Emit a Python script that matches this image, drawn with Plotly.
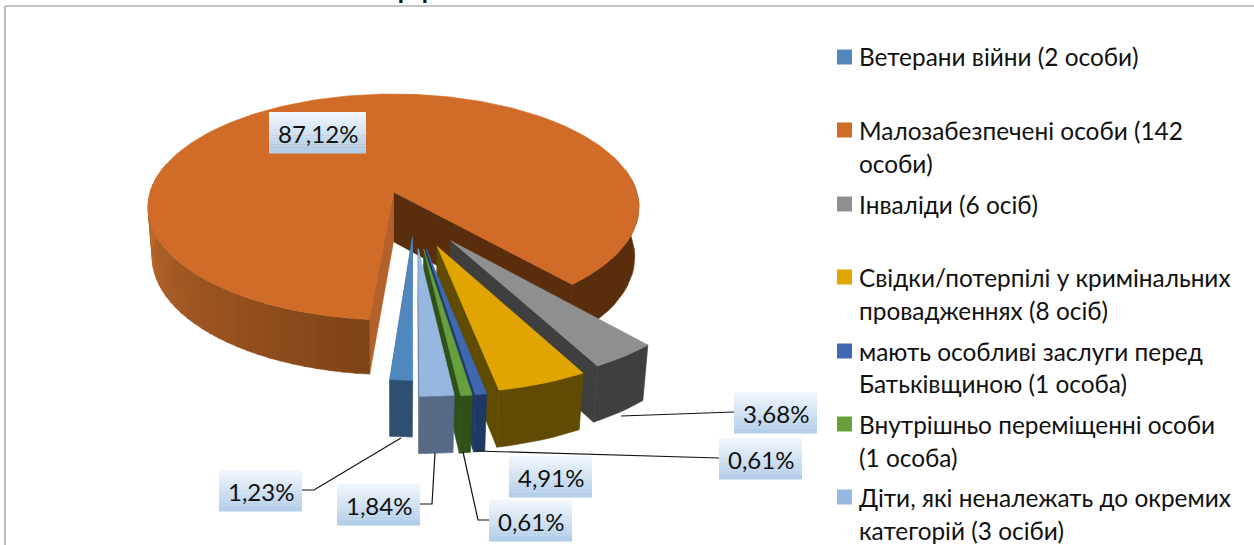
import math
import plotly.graph_objects as go

# ---- data ----
categories = ["Ветерани війни (2 особи)", "Малозабезпечені особи (142 особи)", "Інваліди (6 осіб)",
              "Свідки/потерпілі у кримінальних провадженнях (8 осіб)",
              "мають особливі заслуги перед Батьківщиною (1 особа)",
              "Внутрішньо переміщенні особи (1 особа)",
              "Діти, які неналежать до окремих категорій (3 осіби)"]
counts = [2, 142, 6, 8, 1, 1, 3]
legend_lines = [["Ветерани війни (2 особи)"],
                ["Малозабезпечені особи (142", "особи)"],
                ["Інваліди (6 осіб)"],
                ["Свідки/потерпілі у кримінальних", "провадженнях (8 осіб)"],
                ["мають особливі заслуги перед", "Батьківщиною (1 особа)"],
                ["Внутрішньо переміщенні особи", "(1 особа)"],
                ["Діти, які неналежать до окремих", "категорій (3 осіби)"]]
top_colors = ["#5088bd", "#d06c28", "#8f8f8f", "#e0a500", "#3f68b1", "#66a03e", "#95b7e0"]
wall_colors = ["#2d5070", "#5a2e0c", "#3f3f3f", "#604b00", "#1f3864", "#2f5019", "#566a85"]

# ---- style / projection settings ----
FONT = "Lato, 'Noto Sans', sans-serif"
FS = 24.4
FIRST_ANGLE = 180.55
EXPLODE = 0.225
slice_explode = [0.17, 0.225, 0.245, 0.26, 0.27, 0.27, 0.265]
GROUP_SHIFT = 0.012
AX, AY, R, H, D = 393.5, 192.0, 243.3, 111.0, 50.5
K, J, Q = 0.133, 0.0, 0.017


def project(a, b, d=0.0):
    w = 1 - K * b - J * a + Q * d
    return AX + R * a / w, AY + (H * b + D * d) / w


def direction(t):
    r = math.radians(t)
    return math.sin(r), -math.cos(r)


def arc(t0, t1, n):
    return [t0 + (t1 - t0) * i / n for i in range(n + 1)]


total = sum(counts)
spans = [c / total * 360 for c in counts]
starts = []
acc = FIRST_ANGLE
for s in spans:
    starts.append(acc)
    acc += s

om = direction(starts[1] + spans[1] / 2)
cx0, cy0 = -EXPLODE * om[0], -EXPLODE * om[1]


def offset(i):
    m = direction(starts[i] + spans[i] / 2)
    shift = 0 if i == 1 else GROUP_SHIFT
    return cx0 + shift + slice_explode[i] * m[0], cy0 + slice_explode[i] * m[1]


fig = go.Figure()


def poly(pts, color):
    fig.add_trace(go.Scatter(x=[p[0] for p in pts] + [pts[0][0]], y=[p[1] for p in pts] + [pts[0][1]],
                             mode="lines", fill="toself", fillcolor=color,
                             line=dict(color=color, width=0.6), hoverinfo="skip", showlegend=False))


def rim(i, t0, t1, color, n=6):
    ox, oy = offset(i)
    ts = arc(t0, t1, n)
    top = []
    bot = []
    for t in ts:
        dx, dy = direction(t)
        top.append(project(ox + dx, oy + dy))
        bot.append(project(ox + dx, oy + dy, 1))
    poly(top + bot[::-1], color)


def radial_wall(i, t, color):
    ox, oy = offset(i)
    dx, dy = direction(t)
    poly([project(ox, oy), project(ox + dx, oy + dy), project(ox + dx, oy + dy, 1), project(ox, oy, 1)], color)


def top_face(i, color):
    ox, oy = offset(i)
    n = max(6, int(spans[i] / 1.5))
    pts = [project(ox, oy)]
    for t in arc(starts[i], starts[i] + spans[i], n):
        dx, dy = direction(t)
        pts.append(project(ox + dx, oy + dy))
    poly(pts, color)


def mix(c0, c1, f):
    v0 = [int(c0[i:i + 2], 16) for i in (1, 3, 5)]
    v1 = [int(c1[i:i + 2], 16) for i in (1, 3, 5)]
    return "#%02x%02x%02x" % tuple(round(x + (y - x) * f) for x, y in zip(v0, v1))


# large slice first
o0, o1 = starts[1], starts[1] + spans[1]
radial_wall(1, o1, wall_colors[1])
rim(1, o1 - 60, o1, wall_colors[1], 20)
radial_wall(1, o0, "#b3602a")
N = 36
for j in range(N):
    t0 = o0 + (285 - o0) * j / N
    t1 = o0 + (285 - o0) * (j + 1) / N
    rim(1, t0, t1 + 0.3, mix("#7f4317", "#c66e2f", j / (N - 1)), 2)
top_face(1, top_colors[1])

# remaining slices, right to left
for i in [2, 3, 4, 5, 6, 0]:
    e = starts[i] + spans[i]
    radial_wall(i, e, wall_colors[i])
    rim(i, starts[i], e, wall_colors[i])
    top_face(i, top_colors[i])

# leader lines
leaders = [([621, 734], [416, 412]),
           ([476, 719], [451, 458]),
           ([401, 314, 302], [438, 490, 490]),
           ([435, 432, 420], [453, 504, 504]),
           ([463, 478, 489], [452, 520, 520])]
for lx, ly in leaders:
    fig.add_trace(go.Scatter(x=lx, y=ly, mode="lines", line=dict(color="#111111", width=1.2),
                             hoverinfo="skip", showlegend=False))

# percentage labels
label_boxes = {1: (269, 366, 112, 153), 2: (734, 817, 392, 433), 4: (719, 802, 438, 479),
               3: (509, 592, 456, 497), 0: (219, 302, 470, 511), 6: (337, 420, 484, 525), 5: (489, 572, 500, 541)}
shapes = []
annots = []
for i, (x0, x1, y0, y1) in label_boxes.items():
    steps = 14
    for j in range(steps):
        shapes.append(dict(type="rect", xref="x", yref="y", x0=x0, x1=x1,
                           y0=y0 + (y1 - y0) * j / steps, y1=y0 + (y1 - y0) * (j + 1) / steps + 0.4,
                           fillcolor=mix("#f1f6fc", "#b2cee8", j / (steps - 1)), line=dict(width=0), layer="above"))
    annots.append(dict(x=(x0 + x1) / 2, y=(y0 + y1) / 2 + 1, xref="x", yref="y", showarrow=False,
                       text=f"{counts[i] / total * 100:.2f}".replace(".", ",") + "%",
                       font=dict(family=FONT, size=24, color="#111111")))

# legend
marker_y = [57, 130, 204, 277, 351, 424, 497]
line_y = [[56], [130, 163], [204], [277, 310], [351, 383], [424, 457], [497, 530]]
fig.add_trace(go.Scatter(x=[844.5] * 7, y=marker_y, mode="markers",
                         marker=dict(symbol="square", size=15, color=top_colors, line=dict(width=0)),
                         hoverinfo="skip", showlegend=False))
for lines, ys in zip(legend_lines, line_y):
    for t, y in zip(lines, ys):
        annots.append(dict(x=857, y=y, xref="x", yref="y", xanchor="left", showarrow=False, text=t,
                           font=dict(family=FONT, size=FS, color="#111111")))

# frame and clipped title glyph
shapes.append(dict(type="line", xref="x", yref="y", x0=5, x1=1254, y0=6, y1=6, line=dict(color="#8a8a8a", width=1.2)))
shapes.append(dict(type="line", xref="x", yref="y", x0=5, x1=5, y0=6, y1=545, line=dict(color="#8a8a8a", width=1.2)))
annots.append(dict(x=413 / 1254, y=1, xref="paper", yref="paper", xanchor="center", yanchor="bottom", yshift=-7,
                   showarrow=False, text="Д", font=dict(family=FONT, size=36, color="#111111")))

fig.update_layout(width=1254, height=545, margin=dict(l=0, r=0, t=0, b=0), paper_bgcolor="white",
                  plot_bgcolor="white", showlegend=False, hovermode=False,
                  xaxis=dict(range=[0, 1254], visible=False, fixedrange=True),
                  yaxis=dict(range=[545, 0], visible=False, fixedrange=True),
                  shapes=shapes, annotations=annots)
fig.write_html("out.html", config={"displayModeBar": False},
               post_script="document.body.style.margin='0';document.body.style.overflow='hidden';")
